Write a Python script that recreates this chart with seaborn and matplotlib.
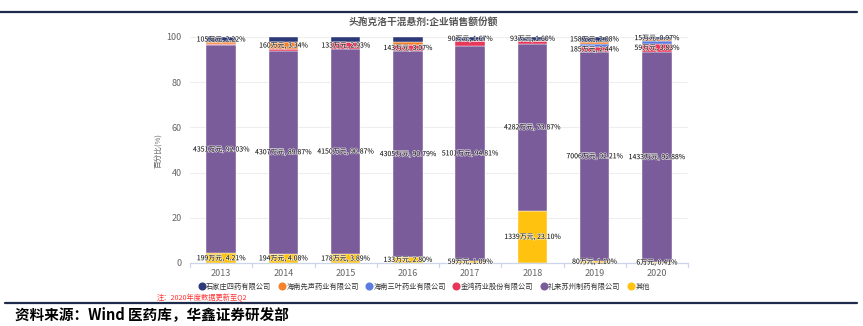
import matplotlib
matplotlib.use("Agg")
import matplotlib.pyplot as plt
import matplotlib.patheffects as pe
from matplotlib.lines import Line2D
import numpy as np
import pandas as pd
import seaborn as sns

years = ["2013", "2014", "2015", "2016", "2017", "2018", "2019", "2020"]

# series, stacked bottom -> top
other = [4.21, 4.08, 3.89, 2.80, 1.09, 23.10, 1.10, 0.41]
lilly = [92.03, 89.87, 90.87, 90.79, 94.81, 73.87, 92.21, 92.88]
jinhong = [0.80, 0.60, 2.93, 3.07, 2.43, 1.40, 2.44, 3.83]
sanye = [0.0, 0.0, 0.0, 0.0, 0.0, 0.0, 1.20, 1.00]
xiansheng = [0.74, 3.34, 0.30, 1.30, 0.0, 0.0, 0.97, 0.91]
sjz = [2.22, 2.11, 2.01, 2.04, 1.67, 1.63, 2.08, 0.97]

other_lbl = ["199万元, 4.21%", "194万元, 4.08%", "178万元, 3.89%", "133万元, 2.80%",
             "59万元, 1.09%", "1339万元, 23.10%", "80万元, 1.10%", "6万元, 0.41%"]
lilly_lbl = ["4351万元, 92.03%", "4307万元, 89.87%", "4150万元, 90.87%", "4305万元, 90.79%",
             "5101万元, 94.81%", "4282万元, 73.87%", "7006万元, 92.21%", "1433万元, 92.88%"]
jinhong_lbl = ["", "", "133万元, 2.93%", "143万元, 3.07%", "", "", "185万元, 2.44%", "59万元, 3.83%"]
sanye_lbl = ["", "", "", "", "", "", "", ""]
xiansheng_lbl = ["", "160万元, 3.34%", "", "", "", "", "", ""]
sjz_lbl = ["105万元, 2.22%", "", "", "", "90万元, 1.67%", "93万元, 1.60%", "158万元, 2.08%", "15万元, 0.97%"]

names = ["石家庄四药有限公司", "海南先声药业有限公司", "海南三叶药业有限公司",
         "金鸿药业股份有限公司", "礼来苏州制药有限公司", "其他"]

title = "头孢克洛干混悬剂:企业销售额份额"
ylabel = "百分比(%)"
note = "注：2020年度数据更新至Q2"
source = "资料来源：Wind 医药库，华鑫证券研发部"

colors = {
    "石家庄四药有限公司": "#2E3A78",
    "海南先声药业有限公司": "#F5822A",
    "海南三叶药业有限公司": "#5B7BE0",
    "金鸿药业股份有限公司": "#E8375A",
    "礼来苏州制药有限公司": "#7B5C9A",
    "其他": "#FFC20E",
}

sns.set_theme(style="white")
plt.rcParams["font.family"] = ["Noto Sans CJK SC", "DejaVu Sans"]

fig = plt.figure(figsize=(8.63, 3.26), dpi=100)
ax = fig.add_axes([190 / 863, 1 - 263 / 326, (688 - 190) / 863, (263 - 37) / 326])

stack = [
    ("其他", other, other_lbl),
    ("礼来苏州制药有限公司", lilly, lilly_lbl),
    ("金鸿药业股份有限公司", jinhong, jinhong_lbl),
    ("海南三叶药业有限公司", sanye, sanye_lbl),
    ("海南先声药业有限公司", xiansheng, xiansheng_lbl),
    ("石家庄四药有限公司", sjz, sjz_lbl),
]

bottom = np.zeros(len(years))
for name, vals, lbls in stack:
    vals = np.array(vals, dtype=float)
    df = pd.DataFrame({"year": years, "val": vals})
    sns.barplot(data=df, x="year", y="val", order=years, color=colors[name],
                width=0.47, bottom=bottom.copy(), ax=ax, saturation=1,
                edgecolor="white", linewidth=0.3, errorbar=None)
    for i, (v, t) in enumerate(zip(vals, lbls)):
        if t:
            ax.text(i, bottom[i] + v / 2, t, ha="center", va="center", fontsize=5.0,
                    color="#111111",
                    path_effects=[pe.withStroke(linewidth=0.9, foreground="white", alpha=0.75)],
                    zorder=5)
    bottom += vals

ax.set_xlim(-0.5, len(years) - 0.5)
ax.set_ylim(0, 100)
ax.set_yticks([0, 20, 40, 60, 80, 100])
ax.yaxis.grid(True, color="#EEEEEE", linewidth=0.8)
ax.set_axisbelow(True)
for s in ["top", "right", "left"]:
    ax.spines[s].set_visible(False)
ax.spines["bottom"].set_color("#CCD6EB")
ax.spines["bottom"].set_linewidth(0.9)
ax.set_xlabel("")
ax.set_ylabel(ylabel, fontsize=5.5, color="#666666", labelpad=3)
ax.tick_params(axis="y", labelsize=6.5, labelcolor="#666666", length=0, pad=6)
ax.tick_params(axis="x", labelsize=6.5, labelcolor="#666666", length=0, pad=4)
# category boundary ticks
for b in np.arange(-0.5, len(years), 1.0):
    ax.plot([b, b], [0, -1.8], color="#CCD6EB", lw=0.9, clip_on=False)

fig.text(423 / 863, 1 - 22 / 326, title, ha="center", va="center", fontsize=7.0,
         color="#555555", fontweight="bold")

handles = [Line2D([0], [0], marker="o", linestyle="", markersize=4.8,
                  markerfacecolor=colors[n], markeredgecolor=colors[n]) for n in names]
fig.legend(handles, names, loc="center", bbox_to_anchor=(424 / 863, 1 - 287 / 326),
           ncol=6, frameon=False, fontsize=5.2, handletextpad=0.15, columnspacing=0.9,
           labelcolor="#333333", handlelength=1.0)

fig.text(157 / 863, 1 - 298 / 326, note, ha="left", va="center", fontsize=5.2, color="#FF3333")

fig.add_artist(Line2D([0, 857 / 863], [1 - 12 / 326, 1 - 12 / 326], color="#1F2B4D", lw=1.6))
fig.add_artist(Line2D([5 / 863, 857 / 863], [1 - 303 / 326, 1 - 303 / 326], color="#1F2B4D", lw=1.6))

fig.text(15 / 863, 1 - 314 / 326, source, ha="left", va="center", fontsize=10.5,
         color="black", fontweight="bold")

fig.savefig("out.png", dpi=100)
